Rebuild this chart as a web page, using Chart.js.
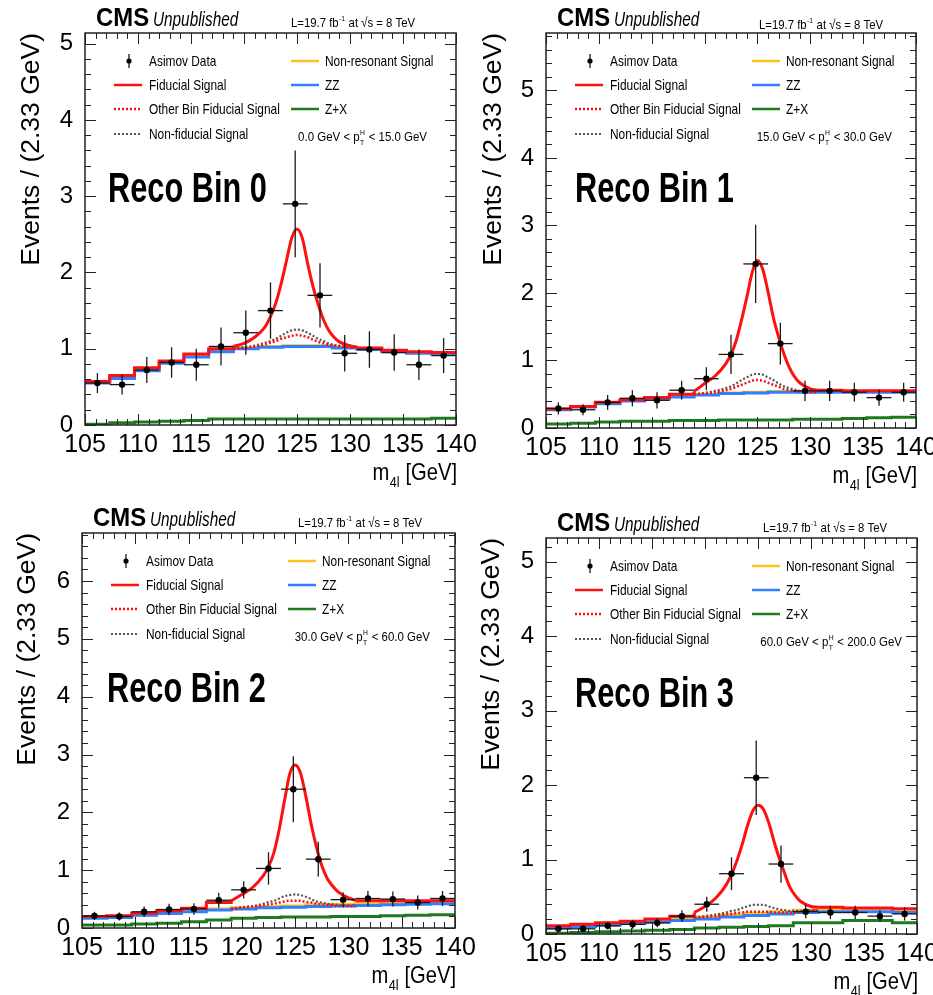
<!DOCTYPE html>
<html lang="en">
<head>
<meta charset="UTF-8">
<title>m4l distributions per reco bin</title>
<script src="https://cdn.jsdelivr.net/npm/chart.js@4.4.1/dist/chart.umd.min.js"></script>
<style>
  html, body { margin: 0; padding: 0; background: #fff; }
  body { width: 933px; height: 995px; position: relative; overflow: hidden; }
  canvas { position: absolute; }
</style>
</head>
<body>
<canvas id="c0" width="490" height="497" style="left:0;top:0"></canvas>
<canvas id="c1" width="490" height="497" style="left:466px;top:0"></canvas>
<canvas id="c2" width="490" height="497" style="left:0;top:498px"></canvas>
<canvas id="c3" width="490" height="497" style="left:466px;top:498px"></canvas>

<script>
// ---- data ----
const massEdges   = [105, 107.33, 109.67, 112, 114.33, 116.67, 119, 121.33, 123.67, 126, 128.33, 130.67, 133, 135.33, 137.67, 140];
const massCenters = [106.17, 108.5, 110.83, 113.17, 115.5, 117.83, 120.17, 122.5, 124.83, 127.17, 129.5, 131.83, 134.17, 136.5, 138.83];
const peakX = [119, 120, 121, 122, 122.5, 123, 123.5, 124, 124.5, 125, 125.5, 126, 126.5, 127, 127.5, 128, 128.5, 129, 130, 130.67];

const recoNames = ['Reco Bin 0', 'Reco Bin 1', 'Reco Bin 2', 'Reco Bin 3'];
const ptRanges  = [['0.0', '15.0'], ['15.0', '30.0'], ['30.0', '60.0'], ['60.0', '200.0']];
const yMaxes    = [5.14, 5.85, 6.83, 5.32];

// Reco bin 0
const data0    = [0.55, 0.53, 0.72, 0.82, 0.79, 1.03, 1.21, 1.50, 2.90, 1.70, 0.94, 0.99, 0.95, 0.79, 0.91];
const err0     = [0.13, 0.13, 0.17, 0.20, 0.21, 0.25, 0.29, 0.37, 0.70, 0.42, 0.24, 0.24, 0.24, 0.20, 0.23];
const zz0      = [0.55, 0.61, 0.71, 0.81, 0.89, 0.96, 1.00, 1.02, 1.03, 1.03, 1.01, 0.99, 0.96, 0.94, 0.93];
const nonres0  = [0.56, 0.62, 0.72, 0.82, 0.90, 0.97, 1.01, 1.03, 1.04, 1.04, 1.02, 1.00, 0.97, 0.95, 0.94];
const zx0      = [0.01, 0.03, 0.04, 0.05, 0.06, 0.08, 0.08, 0.08, 0.08, 0.08, 0.08, 0.08, 0.08, 0.08, 0.09];
const fidSide0 = [0.57, 0.65, 0.75, 0.84, 0.93, 1.00, 1.01, 0.98, 0.96, 0.95];
const fidPeak0 = [1.03, 1.07, 1.15, 1.29, 1.42, 1.60, 1.85, 2.15, 2.45, 2.57, 2.45, 2.12, 1.82, 1.58, 1.38, 1.24, 1.15, 1.09, 1.04, 1.02];
const other0   = [1.00, 1.01, 1.03, 1.06, 1.08, 1.10, 1.13, 1.15, 1.17, 1.18, 1.17, 1.15, 1.12, 1.09, 1.07, 1.05, 1.04, 1.03, 1.02, 1.01];
const nonfid0  = [1.00, 1.02, 1.04, 1.08, 1.10, 1.13, 1.17, 1.21, 1.24, 1.25, 1.24, 1.21, 1.17, 1.13, 1.10, 1.07, 1.05, 1.04, 1.02, 1.01];

// Reco bin 1
const data1    = [0.29, 0.27, 0.38, 0.44, 0.41, 0.56, 0.73, 1.09, 2.43, 1.25, 0.55, 0.55, 0.53, 0.45, 0.53];
const err1     = [0.09, 0.08, 0.11, 0.12, 0.12, 0.14, 0.17, 0.29, 0.58, 0.31, 0.15, 0.15, 0.14, 0.12, 0.14];
const zz1      = [0.27, 0.31, 0.36, 0.40, 0.43, 0.46, 0.49, 0.51, 0.52, 0.53, 0.53, 0.53, 0.53, 0.53, 0.53];
const nonres1  = [0.28, 0.32, 0.37, 0.41, 0.44, 0.47, 0.50, 0.52, 0.53, 0.54, 0.54, 0.54, 0.54, 0.54, 0.54];
const zx1      = [0.06, 0.07, 0.09, 0.10, 0.10, 0.11, 0.11, 0.12, 0.12, 0.12, 0.13, 0.13, 0.14, 0.15, 0.16];
const fidSide1 = [0.28, 0.32, 0.38, 0.42, 0.45, 0.50, 0.56, 0.55, 0.55, 0.55];
const fidPeak1 = [0.54, 0.66, 0.77, 0.95, 1.09, 1.30, 1.60, 1.94, 2.30, 2.48, 2.35, 2.02, 1.64, 1.35, 1.10, 0.90, 0.76, 0.67, 0.58, 0.56];
const other1   = [0.50, 0.51, 0.53, 0.56, 0.58, 0.61, 0.64, 0.67, 0.70, 0.71, 0.70, 0.67, 0.64, 0.61, 0.58, 0.56, 0.55, 0.54, 0.53, 0.53];
const nonfid1  = [0.50, 0.52, 0.55, 0.59, 0.62, 0.66, 0.71, 0.75, 0.79, 0.80, 0.79, 0.75, 0.71, 0.66, 0.62, 0.59, 0.57, 0.55, 0.54, 0.53];

// Reco bin 2
const data2    = [0.21, 0.20, 0.28, 0.32, 0.33, 0.48, 0.66, 1.03, 2.40, 1.19, 0.49, 0.51, 0.50, 0.44, 0.51];
const err2     = [0.07, 0.07, 0.09, 0.10, 0.10, 0.13, 0.15, 0.28, 0.57, 0.30, 0.13, 0.13, 0.13, 0.12, 0.13];
const zz2      = [0.17, 0.18, 0.22, 0.25, 0.28, 0.31, 0.33, 0.35, 0.36, 0.37, 0.38, 0.39, 0.40, 0.41, 0.42];
const nonres2  = [0.18, 0.19, 0.23, 0.26, 0.30, 0.33, 0.35, 0.37, 0.38, 0.40, 0.41, 0.42, 0.43, 0.44, 0.45];
const zx2      = [0.05, 0.05, 0.07, 0.08, 0.11, 0.14, 0.17, 0.18, 0.19, 0.19, 0.20, 0.20, 0.21, 0.22, 0.23];
const fidSide2 = [0.20, 0.21, 0.26, 0.30, 0.34, 0.44, 0.47, 0.47, 0.47, 0.47];
const fidPeak2 = [0.47, 0.58, 0.70, 0.90, 1.06, 1.30, 1.70, 2.20, 2.67, 2.82, 2.68, 2.28, 1.80, 1.40, 1.08, 0.86, 0.73, 0.63, 0.52, 0.48];
const other2   = [0.33, 0.35, 0.37, 0.39, 0.41, 0.42, 0.44, 0.46, 0.47, 0.47, 0.47, 0.45, 0.44, 0.42, 0.41, 0.40, 0.39, 0.38, 0.38, 0.38];
const nonfid2  = [0.33, 0.36, 0.38, 0.42, 0.45, 0.47, 0.51, 0.55, 0.57, 0.58, 0.57, 0.54, 0.50, 0.46, 0.44, 0.42, 0.41, 0.40, 0.39, 0.39];

// Reco bin 3
const data3    = [0.07, 0.07, 0.11, 0.13, 0.15, 0.24, 0.40, 0.81, 2.10, 0.94, 0.30, 0.29, 0.29, 0.24, 0.27];
const err3     = [0.04, 0.04, 0.05, 0.06, 0.06, 0.08, 0.10, 0.22, 0.50, 0.25, 0.09, 0.09, 0.09, 0.08, 0.09];
const zz3      = [0.08, 0.10, 0.12, 0.14, 0.16, 0.18, 0.20, 0.23, 0.25, 0.27, 0.29, 0.30, 0.30, 0.30, 0.29];
const nonres3  = [0.10, 0.12, 0.14, 0.16, 0.18, 0.21, 0.23, 0.26, 0.28, 0.30, 0.32, 0.34, 0.34, 0.34, 0.33];
const zx3      = [0.01, 0.02, 0.03, 0.04, 0.05, 0.06, 0.08, 0.09, 0.10, 0.11, 0.15, 0.15, 0.18, 0.18, 0.15];
const fidSide3 = [0.11, 0.13, 0.15, 0.17, 0.20, 0.24, 0.36, 0.35, 0.35, 0.34];
const fidPeak3 = [0.29, 0.37, 0.48, 0.66, 0.80, 0.98, 1.20, 1.45, 1.65, 1.73, 1.68, 1.50, 1.25, 1.02, 0.82, 0.63, 0.52, 0.44, 0.37, 0.36];
const other3   = [0.22, 0.23, 0.24, 0.26, 0.27, 0.28, 0.29, 0.30, 0.30, 0.30, 0.30, 0.30, 0.29, 0.29, 0.29, 0.29, 0.29, 0.30, 0.31, 0.32];
const nonfid3  = [0.22, 0.24, 0.26, 0.29, 0.31, 0.32, 0.35, 0.37, 0.39, 0.39, 0.39, 0.37, 0.35, 0.33, 0.32, 0.31, 0.31, 0.31, 0.32, 0.32];

// ---- look ----
const FONT = "'Liberation Sans', Arial, Helvetica, sans-serif";
const NARROW = "'Liberation Sans Narrow', 'Liberation Sans', Arial, sans-serif";
const RED = '#ff1010', BLUE = '#2f7fff', GREEN = '#1f7a1f', ORANGE = '#ffc020', GREY = '#555555';
const CW = 490, CH = 497;

// frame box of each panel inside its canvas
const boxes = [
  {L: 85, T: 33, R: 456, B: 425, ttl: 17, ptOff: 29, lumiOff: 41, lumiY: -6, recoX: 23},
  {L: 80, T: 33, R: 450, B: 428, ttl: 13, ptOff: 24, lumiOff: 33, lumiY: -4, recoX: 29},
  {L: 82, T: 35, R: 455, B: 430, ttl: 13, ptOff: 25, lumiOff: 33, lumiY: -6, recoX: 25},
  {L: 80, T: 40, R: 451, B: 436, ttl: 11, ptOff: 15, lumiOff: 30, lumiY: -6, recoX: 29},
];

const panels = [
  {data: data0, err: err0, zz: zz0, nonres: nonres0, zx: zx0, side: fidSide0, peak: fidPeak0, other: other0, nonfid: nonfid0},
  {data: data1, err: err1, zz: zz1, nonres: nonres1, zx: zx1, side: fidSide1, peak: fidPeak1, other: other1, nonfid: nonfid1},
  {data: data2, err: err2, zz: zz2, nonres: nonres2, zx: zx2, side: fidSide2, peak: fidPeak2, other: other2, nonfid: nonfid2},
  {data: data3, err: err3, zz: zz3, nonres: nonres3, zx: zx3, side: fidSide3, peak: fidPeak3, other: other3, nonfid: nonfid3},
];

function hist(vals) {
  return massEdges.map((x, i) => ({x, y: vals[Math.min(i, vals.length - 1)]}));
}

// text with sub/superscripts, squeezed horizontally by sx
function drawRich(ctx, parts, x, y, o) {
  const big = `${o.style || ''} ${o.weight || ''} ${o.size}px ${FONT}`;
  const small = `${Math.round(o.size * 0.62)}px ${FONT}`;
  ctx.save();
  ctx.fillStyle = '#000';
  ctx.textBaseline = 'alphabetic';
  ctx.textAlign = 'left';
  const ws = parts.map(p => {
    ctx.font = big;
    const a = ctx.measureText(p.t).width;
    ctx.font = small;
    const b = Math.max(p.sub ? ctx.measureText(p.sub).width + 1 : 0, p.sup ? ctx.measureText(p.sup).width + 1 : 0);
    return [a, b];
  });
  const total = ws.reduce((s, w) => s + w[0] + w[1], 0);
  let cx = o.align === 'right' ? -total : o.align === 'center' ? -total / 2 : 0;
  ctx.translate(x, y);
  ctx.scale(o.sx, 1);
  parts.forEach((p, i) => {
    ctx.font = big;
    ctx.fillText(p.t, cx, 0);
    cx += ws[i][0];
    ctx.font = small;
    if (p.sub) ctx.fillText(p.sub, cx + 0.5, o.size * 0.28);
    if (p.sup) ctx.fillText(p.sup, cx + 0.5, -o.size * 0.42);
    cx += ws[i][1];
  });
  ctx.restore();
}

function seg(ctx, x1, y1, x2, y2) {
  ctx.beginPath(); ctx.moveTo(x1, y1); ctx.lineTo(x2, y2); ctx.stroke();
}

const cmsPlugin = {
  id: 'cms',
  beforeDatasetDraw(chart, args, opts) {
    if (args.index !== 0) return;
    const p = panels[opts.panel];
    const {x: xs, y: ys} = chart.scales;
    const ctx = chart.ctx;
    ctx.save();
    ctx.strokeStyle = '#1a1a1a';
    ctx.lineWidth = 1.3;
    p.data.forEach((v, i) => {
      const cx = xs.getPixelForValue(massCenters[i]);
      const cy = ys.getPixelForValue(v);
      seg(ctx, xs.getPixelForValue(massEdges[i]), cy, xs.getPixelForValue(massEdges[i + 1]), cy);
      seg(ctx, cx, ys.getPixelForValue(v - p.err[i]), cx, ys.getPixelForValue(v + p.err[i]));
    });
    ctx.restore();
  },
  afterDatasetsDraw(chart, args, opts) {
    const {x: xs, y: ys} = chart.scales;
    const {left, right, top, bottom} = chart.chartArea;
    const ctx = chart.ctx;
    ctx.save();
    ctx.strokeStyle = '#222';
    ctx.lineWidth = 1;
    for (let v = 105; v <= 140; v++) {
      const px = Math.round(xs.getPixelForValue(v)) + 0.5;
      const len = v % 5 === 0 ? 11 : 6;
      seg(ctx, px, bottom, px, bottom - len);
      seg(ctx, px, top, px, top + len);
    }
    for (let k = 0; k * 0.2 <= yMaxes[opts.panel]; k++) {
      const py = Math.round(ys.getPixelForValue(k * 0.2)) + 0.5;
      const len = k % 5 === 0 ? 11 : 6;
      seg(ctx, left, py, left + len, py);
      seg(ctx, right, py, right - len, py);
    }
    ctx.lineWidth = 1.5;
    ctx.strokeRect(left, top, right - left, bottom - top);
    ctx.restore();
  },
  afterDraw(chart, args, opts) {
    const n = opts.panel;
    const b = boxes[n];
    const {left: L, right: R, top: T, bottom: B} = chart.chartArea;
    const ctx = chart.ctx;

    drawRich(ctx, [{t: 'CMS'}], L + 11, T - 7, {size: 26, weight: 'bold', sx: 0.92});
    drawRich(ctx, [{t: 'Unpublished'}], L + 68, T - 7, {size: 21, style: 'italic', sx: 0.73});
    drawRich(ctx, [{t: 'L=19.7 fb', sup: '-1'}, {t: ' at \u221As = 8 TeV'}], R - b.lumiOff, T + b.lumiY,
      {size: 13.5, sx: 0.84, align: 'right'});

    // legend
    const rows = [T + 28, T + 52, T + 76, T + 101];
    const lo = {size: 14.5, sx: 0.82};
    ctx.save();
    ctx.fillStyle = '#000';
    ctx.strokeStyle = '#1a1a1a';
    ctx.lineWidth = 1.3;
    seg(ctx, L + 44, rows[0] - 7, L + 44, rows[0] + 7);
    ctx.beginPath(); ctx.arc(L + 44, rows[0], 2.6, 0, Math.PI * 2); ctx.fill();
    const sample = (x, y, color, dash, w) => {
      ctx.strokeStyle = color; ctx.lineWidth = w; ctx.setLineDash(dash);
      seg(ctx, x, y, x + 28, y);
    };
    sample(L + 29, rows[1], RED, [], 2.5);
    sample(L + 29, rows[2], RED, [2, 2], 2.5);
    sample(L + 29, rows[3], GREY, [2, 2], 2);
    sample(L + 206, rows[0], ORANGE, [], 2.5);
    sample(L + 206, rows[1], BLUE, [], 2.5);
    sample(L + 206, rows[2], GREEN, [], 2.5);
    ctx.restore();
    ['Asimov Data', 'Fiducial Signal', 'Other Bin Fiducial Signal', 'Non-fiducial Signal'].forEach((t, i) =>
      drawRich(ctx, [{t}], L + 64, rows[i] + 5, lo));
    ['Non-resonant Signal', 'ZZ', 'Z+X'].forEach((t, i) =>
      drawRich(ctx, [{t}], L + 240, rows[i] + 5, lo));
    drawRich(ctx, [{t: ptRanges[n][0] + ' GeV < p', sub: 'T', sup: 'H'}, {t: ' < ' + ptRanges[n][1] + ' GeV'}],
      R - b.ptOff, T + 108, {size: 13.5, sx: 0.85, align: 'right'});

    drawRich(ctx, [{t: recoNames[n]}], L + b.recoX, T + 169, {size: 43, weight: 'bold', sx: 0.715});
    drawRich(ctx, [{t: 'm', sub: '4l'}, {t: ' [GeV]'}], R + 1, B + 55, {size: 24, sx: 0.84, align: 'right'});
  }
};

function makeChart(n) {
  const p = panels[n];
  const b = boxes[n];
  const left = massEdges.slice(0, 7).map((x, i) => ({x, y: i < 6 ? p.side[i] : p.peak[0]}));
  const right = massEdges.slice(11).map((x, i) => ({x, y: p.side[6 + Math.min(i, 3)]}));
  const curve = vals => peakX.map((x, i) => ({x, y: vals[i]}));
  const line = (data, color, extra) => Object.assign({
    data, borderColor: color, borderWidth: 3, pointRadius: 0, fill: false, tension: 0
  }, extra);

  new Chart(document.getElementById('c' + n), {
    type: 'line',
    data: {
      datasets: [
        {label: 'Asimov Data', data: massCenters.map((x, i) => ({x, y: p.data[i]})), showLine: false,
         pointRadius: 3.2, pointBackgroundColor: '#000', pointBorderWidth: 0, order: 0},
        line(left, RED, {stepped: 'before', order: 1}),
        line(curve(p.peak), RED, {cubicInterpolationMode: 'monotone', order: 1}),
        line(right, RED, {stepped: 'before', order: 1}),
        line(curve(p.other), RED, {borderWidth: 2.5, borderDash: [2, 2], cubicInterpolationMode: 'monotone', order: 2}),
        line(curve(p.nonfid), GREY, {borderWidth: 2.2, borderDash: [2, 2], cubicInterpolationMode: 'monotone', order: 2}),
        line(hist(p.zz), BLUE, {stepped: 'before', order: 3}),
        line(hist(p.nonres), ORANGE, {stepped: 'before', order: 4}),
        line(hist(p.zx), GREEN, {stepped: 'before', order: 5}),
      ]
    },
    options: {
      responsive: false,
      animation: false,
      devicePixelRatio: 1,
      layout: {padding: {left: 0, top: b.T, right: CW - b.R, bottom: CH - b.B - 40}},
      plugins: {legend: {display: false}, tooltip: {enabled: false}, cms: {panel: n}},
      scales: {
        x: {
          type: 'linear', min: 105, max: 140,
          grid: {display: false}, border: {display: false},
          ticks: {stepSize: 5, autoSkip: false, maxRotation: 0, padding: -3, color: '#000',
                  font: {family: NARROW, size: 25}},
          afterFit(s) { s.height = 40; s.paddingLeft = 0; s.paddingRight = 0; }
        },
        y: {
          min: 0, max: yMaxes[n],
          grid: {display: false}, border: {display: false},
          ticks: {stepSize: 1, includeBounds: false, padding: 4, color: '#000',
                  font: {family: NARROW, size: 24}},
          title: {display: true, text: 'Events / (2.33 GeV)', align: 'end', color: '#000',
                  font: {family: FONT, size: 26.5}, padding: {top: b.ttl - 1, bottom: 0}},
          afterFit(s) { s.width = b.L; }
        }
      }
    },
    plugins: [cmsPlugin]
  });
}

[0, 1, 2, 3].forEach(makeChart);
</script>
</body>
</html>
